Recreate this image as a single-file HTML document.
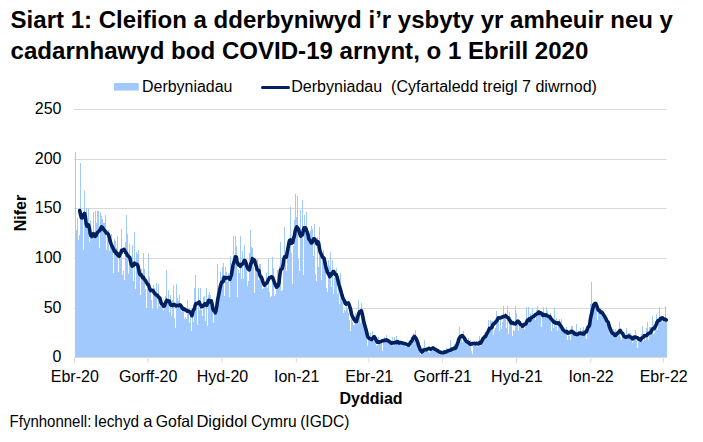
<!DOCTYPE html>
<html><head><meta charset="utf-8"><title>Siart 1</title><style>html,body{margin:0;padding:0;background:#fff}body{width:703px;height:442px;overflow:hidden;font-family:"Liberation Sans",sans-serif}</style></head><body>
<svg width="703" height="442" viewBox="0 0 703 442" style="display:block">
<rect width="703" height="442" fill="#fff"/>
<g font-family="Liberation Sans, sans-serif" font-weight="bold" font-size="23.3" fill="#000">
<text x="10.6" y="27.9" textLength="662.4" lengthAdjust="spacingAndGlyphs" style="white-space:pre">Siart 1: Cleifion a dderbyniwyd i’r ysbyty yr amheuir neu y</text>
<text x="10.6" y="58.75" textLength="577.8" lengthAdjust="spacingAndGlyphs" style="white-space:pre">cadarnhawyd bod COVID-19 arnynt, o 1 Ebrill 2020</text>
</g>
<rect x="114" y="83" width="24.7" height="7.6" fill="#A2C9FE"/>
<line x1="262.5" y1="87.5" x2="288.5" y2="87.5" stroke="#002060" stroke-width="3" stroke-linecap="round"/>
<g font-family="Liberation Sans, sans-serif" font-size="16" fill="#000">
<text x="142" y="92.1" textLength="90.4" lengthAdjust="spacingAndGlyphs">Derbyniadau</text>
<text x="291.3" y="92.1" style="white-space:pre" textLength="305.6" lengthAdjust="spacingAndGlyphs">Derbyniadau  (Cyfartaledd treigl 7 diwrnod)</text>
<text x="61.5" y="114.1" text-anchor="end">250</text>
<text x="61.5" y="164.1" text-anchor="end">200</text>
<text x="61.5" y="213.1" text-anchor="end">150</text>
<text x="61.5" y="263.1" text-anchor="end">100</text>
<text x="61.5" y="313.1" text-anchor="end">50</text>
<text x="61.5" y="362.1" text-anchor="end">0</text>
<text x="74.8" y="381.6" text-anchor="middle">Ebr-20</text>
<text x="148.21" y="381.6" text-anchor="middle">Gorff-20</text>
<text x="222.43" y="381.6" text-anchor="middle">Hyd-20</text>
<text x="296.64" y="381.6" text-anchor="middle">Ion-21</text>
<text x="369.25" y="381.6" text-anchor="middle">Ebr-21</text>
<text x="442.66" y="381.6" text-anchor="middle">Gorff-21</text>
<text x="516.87" y="381.6" text-anchor="middle">Hyd-21</text>
<text x="591.09" y="381.6" text-anchor="middle">Ion-22</text>
<text x="663.69" y="381.6" text-anchor="middle">Ebr-22</text>
<text x="371" y="404.3" text-anchor="middle" font-weight="bold">Dyddiad</text>
<text transform="translate(26,213) rotate(-90)" text-anchor="middle" font-weight="bold">Nifer</text>
<text x="9.6" y="427.4" font-size="16.5" textLength="81.7" lengthAdjust="spacingAndGlyphs">Ffynhonnell:</text>
<text x="93.9" y="427.4" font-size="16.5" textLength="45.2" lengthAdjust="spacingAndGlyphs">Iechyd</text>
<text x="143.2" y="427.4" font-size="16.5">a</text>
<text x="155.8" y="427.4" font-size="16.5" textLength="37.8" lengthAdjust="spacingAndGlyphs">Gofal</text>
<text x="196.4" y="427.4" font-size="16.5" textLength="50.7" lengthAdjust="spacingAndGlyphs">Digidol</text>
<text x="250.9" y="427.4" font-size="16.5" textLength="45.9" lengthAdjust="spacingAndGlyphs">Cymru</text>
<text x="300.2" y="427.4" font-size="16.5" textLength="49.2" lengthAdjust="spacingAndGlyphs">(IGDC)</text>
</g>
<rect x="74" y="109" width="592.5" height="1" fill="#D9D9D9"/>
<rect x="74" y="159" width="592.5" height="1" fill="#D9D9D9"/>
<rect x="74" y="208" width="592.5" height="1" fill="#D9D9D9"/>
<rect x="74" y="258" width="592.5" height="1" fill="#D9D9D9"/>
<rect x="74" y="308" width="592.5" height="1" fill="#D9D9D9"/>
<path d="M75,357V152H76V230H77V218H78V240H79V235H80V163H81V211H82V219H83V250H84V191H85V217H86V208H87V225H88V208H89V242H90V220H91V234H92V238H93V212H94V238H95V211H96V223H97V211H98V211H99V248H100V212H101V216H102V219H103V223H104V223H105V215H106V250H107V239H108V230H109V251H110V241H111V234H112V247H113V273H114V239H115V241H116V248H117V236H118V272H119V258H120V259H121V229H122V275H123V271H124V280H125V242H126V215H127V234H128V274H129V244H130V256H131V260H132V245H133V281H134V232H135V289H136V252H137V254H138V250H139V269H140V295H141V269H142V275H143V253H144V269H145V289H146V308H147V289H148V253H149V277H150V285H151V300H152V309H153V285H154V288H155V295H156V283H157V309H158V284H159V306H160V298H161V304H162V309H163V311H164V309H165V296H166V270H167V300H168V290H169V312H170V295H171V316H172V300H173V285H174V318H175V328H176V284H177V298H178V301H179V295H180V305H181V312H182V306H183V307H184V319H185V317H186V319H187V300H188V311H189V323H190V317H191V331H192V311H193V322H194V288H195V275H196V308H197V325H198V288H199V310H200V288H201V310H202V316H203V297H204V296H205V321H206V288H207V326H208V295H209V292H210V295H211V300H212V301H213V323H214V312H215V309H216V308H217V264H218V303H219V294H220V272H221V277H222V267H223V263H224V296H225V267H226V272H227V282H228V273H229V297H230V256H231V266H232V275H233V236H234V266H235V236H236V246H237V297H238V270H239V273H240V236H241V279H242V251H243V279H244V245H245V264H246V263H247V286H248V281H249V253H250V230H251V247H252V248H253V267H254V293H255V262H256V266H257V259H258V280H259V264H260V264H261V277H262V289H263V288H264V284H265V284H266V273H267V288H268V259H269V292H270V297H271V296H272V257H273V268H274V296H275V294H276V287H277V270H278V281H279V266H280V242H281V291H282V290H283V256H284V227H285V260H286V271H287V252H288V239H289V249H290V207H291V253H292V284H293V246H294V220H295V194H296V217H297V196H298V259H299V271H300V210H301V237H302V200H303V275H304V215H305V233H306V212H307V236H308V232H309V239H310V231H311V226H312V229H313V256H314V224H315V274H316V281H317V237H318V267H319V227H320V244H321V280H322V256H323V250H324V265H325V259H326V288H327V292H328V260H329V266H330V252H331V287H332V260H333V294H334V278H335V274H336V268H337V294H338V283H339V304H340V273H341V289H342V294H343V313H344V310H345V311H346V302H347V309H348V313H349V320H350V331H351V314H352V322H353V325H354V325H355V313H356V318H357V314H358V300H359V317H360V323H361V303H362V310H363V316H364V326H365V330H366V334H367V346H368V334H369V341H370V333H371V340H372V331H373V341H374V337H375V337H376V346H377V345H378V337H379V344H380V344H381V341H382V351H383V339H384V337H385V339H386V335H387V338H388V341H389V342H390V342H391V342H392V337H393V346H394V337H395V340H396V336H397V340H398V341H399V342H400V343H401V343H402V342H403V342H404V345H405V347H406V347H407V344H408V343H409V340H410V348H411V340H412V335H413V333H414V337H415V330H416V338H417V337H418V341H419V342H420V355H421V353H422V350H423V348H424V340H425V349H426V350H427V351H428V352H429V353H430V348H431V349H432V349H433V347H434V351H435V351H436V352H437V351H438V349H439V355H440V350H441V351H442V351H443V351H444V353H445V352H446V348H447V349H448V351H449V350H450V340H451V347H452V348H453V346H454V344H455V347H456V348H457V343H458V337H459V327H460V339H461V337H462V342H463V331H464V337H465V337H466V342H467V340H468V338H469V341H470V340H471V351H472V354H473V344H474V346H475V342H476V342H477V347H478V345H479V336H480V346H481V337H482V338H483V338H484V340H485V335H486V332H487V331H488V320H489V333H490V320H491V321H492V321H493V335H494V330H495V328H496V311H497V317H498V321H499V331H500V317H501V329H502V322H503V306H504V318H505V313H506V328H507V306H508V334H509V312H510V317H511V322H512V336H513V330H514V331H515V306H516V313H517V322H518V331H519V325H520V321H521V324H522V327H523V328H524V329H525V324H526V307H527V323H528V307H529V318H530V313H531V319H532V308H533V319H534V317H535V320H536V310H537V306H538V310H539V310H540V314H541V327H542V313H543V307H544V314H545V314H546V307H547V311H548V314H549V320H550V313H551V331H552V322H553V328H554V308H555V327H556V318H557V331H558V324H559V319H560V326H561V319H562V332H563V331H564V330H565V331H566V327H567V340H568V331H569V336H570V340H571V326H572V326H573V336H574V331H575V331H576V324H577V334H578V333H579V332H580V328H581V331H582V330H583V327H584V334H585V334H586V339H587V331H588V323H589V323H590V304H591V282H592V307H593V305H594V304H595V303H596V305H597V320H598V308H599V309H600V310H601V315H602V317H603V318H604V316H605V318H606V324H607V323H608V329H609V334H610V329H611V331H612V329H613V329H614V335H615V329H616V337H617V335H618V331H619V322H620V337H621V340H622V333H623V338H624V339H625V336H626V328H627V338H628V333H629V333H630V333H631V341H632V343H633V335H634V336H635V330H636V341H637V348H638V336H639V339H640V340H641V334H642V326H643V341H644V335H645V340H646V328H647V322H648V340H649V327H650V327H651V332H652V316H653V334H654V333H655V321H656V314H657V330H658V318H659V307H660V322H661V318H662V322H663V316H664V319H665V306H666V318H667V357Z" fill="#A2C9FE" shape-rendering="crispEdges"/>
<rect x="74" y="357" width="593" height="1" fill="#D9D9D9"/>
<rect x="74" y="357" width="1" height="5.5" fill="#D9D9D9"/>
<rect x="147.41" y="357" width="1" height="5.5" fill="#D9D9D9"/>
<rect x="221.63" y="357" width="1" height="5.5" fill="#D9D9D9"/>
<rect x="295.84" y="357" width="1" height="5.5" fill="#D9D9D9"/>
<rect x="368.45" y="357" width="1" height="5.5" fill="#D9D9D9"/>
<rect x="441.86" y="357" width="1" height="5.5" fill="#D9D9D9"/>
<rect x="516.07" y="357" width="1" height="5.5" fill="#D9D9D9"/>
<rect x="590.29" y="357" width="1" height="5.5" fill="#D9D9D9"/>
<rect x="662.89" y="357" width="1" height="5.5" fill="#D9D9D9"/>
<path d="M79.74,210.57 L80.55,214.85 L81.36,217.62 L82.16,217.97 L82.97,217.19 L83.78,214.16 L84.58,213.51 L85.39,216.87 L86.2,223.88 L87,226.2 L87.81,225.94 L88.62,224.96 L89.42,228.33 L90.23,233.43 L91.04,235.87 L91.84,236.27 L92.65,235 L93.46,233.72 L94.26,234.08 L95.07,236.34 L95.88,235.71 L96.68,233.95 L97.49,232.47 L98.3,231.63 L99.1,231.08 L99.91,230.2 L100.72,228.36 L101.52,226.77 L102.33,227.21 L103.14,228.49 L103.94,230 L104.75,230.51 L105.56,231.58 L106.36,233 L107.17,233 L107.98,233.82 L108.78,235.46 L109.59,238.76 L110.4,241.74 L111.2,244.18 L112.01,246.12 L112.82,247.74 L113.62,249.35 L114.43,251.47 L115.24,251.17 L116.05,253.35 L116.85,253.04 L117.66,254.97 L118.47,255.67 L119.27,256.29 L120.08,253.75 L120.89,252.9 L121.69,250.4 L122.5,250.39 L123.31,249.88 L124.11,249.3 L124.92,250.89 L125.73,252.78 L126.53,253.21 L127.34,255.3 L128.15,255.97 L128.95,256.83 L129.76,257.44 L130.57,261.3 L131.37,264.67 L132.18,266.23 L132.99,265.27 L133.79,265.19 L134.6,263.15 L135.41,263.94 L136.21,264.2 L137.02,264.24 L137.83,265.44 L138.63,269.22 L139.44,273.36 L140.25,274.77 L141.05,274.63 L141.86,276.23 L142.67,277.74 L143.47,277.46 L144.28,279.27 L145.09,279.99 L145.89,281.17 L146.7,282.91 L147.51,284.27 L148.31,284.64 L149.12,287.04 L149.93,289.24 L150.73,290.58 L151.54,290.19 L152.35,290.25 L153.15,290.78 L153.96,292.2 L154.77,293.46 L155.57,294.33 L156.38,294.93 L157.19,295.03 L157.99,296.23 L158.8,297.55 L159.61,297.69 L160.41,299.79 L161.22,303.39 L162.03,303.96 L162.83,304.83 L163.64,306.22 L164.45,305.89 L165.25,303.7 L166.06,301.84 L166.87,300.24 L167.67,301.08 L168.48,300.97 L169.29,300.94 L170.09,303.39 L170.9,305.13 L171.71,304.6 L172.51,305.47 L173.32,304.65 L174.13,304.32 L174.93,305.2 L175.74,305.89 L176.55,305.71 L177.35,305.3 L178.16,305.64 L178.97,305.42 L179.77,304.84 L180.58,305.21 L181.39,306.43 L182.19,308.1 L183,309.18 L183.81,308.62 L184.61,309.25 L185.42,310.06 L186.23,310.03 L187.03,311.04 L187.84,311.21 L188.65,310.97 L189.45,311.8 L190.26,312.16 L191.07,313.82 L191.87,315.72 L192.68,312.22 L193.49,309.93 L194.29,309.05 L195.1,305.68 L195.91,303.66 L196.72,303.75 L197.52,303.2 L198.33,302.78 L199.14,302 L199.94,304.09 L200.75,305.42 L201.56,306.72 L202.36,306.15 L203.17,305.91 L203.98,304.69 L204.78,303.79 L205.59,304.01 L206.4,305.39 L207.2,304.56 L208.01,302.04 L208.82,300.34 L209.62,300.81 L210.43,302.03 L211.24,300.79 L212.04,304 L212.85,308.68 L213.66,310.56 L214.46,310.32 L215.27,312.79 L216.08,310.45 L216.88,305.49 L217.69,299.85 L218.5,295.68 L219.3,291.8 L220.11,287.72 L220.92,284.49 L221.72,282.04 L222.53,282.09 L223.34,281.42 L224.14,277.23 L224.95,277.89 L225.76,278.2 L226.56,277.71 L227.37,277.6 L228.18,277.56 L228.98,278.38 L229.79,279.45 L230.6,277.07 L231.4,275.14 L232.21,269.99 L233.02,265 L233.82,262.66 L234.63,259.86 L235.44,256.76 L236.24,256.96 L237.05,261.2 L237.86,263.84 L238.66,264.99 L239.47,264.53 L240.28,266.26 L241.08,265 L241.89,264.01 L242.7,263.97 L243.5,262.34 L244.31,260.37 L245.12,260.63 L245.92,262.81 L246.73,265.97 L247.54,267.57 L248.34,269 L249.15,269.88 L249.96,267.36 L250.76,263.76 L251.57,262.49 L252.38,258.65 L253.18,259.23 L253.99,259.74 L254.8,260.85 L255.6,264.51 L256.41,266.46 L257.22,269.9 L258.02,270.17 L258.83,270.22 L259.64,274.51 L260.44,276.7 L261.25,276.95 L262.06,279.09 L262.86,281.86 L263.67,283.59 L264.48,285.2 L265.28,283.96 L266.09,283.39 L266.9,282.94 L267.7,281.18 L268.51,279.34 L269.32,277.84 L270.12,277.72 L270.93,277.01 L271.74,276.77 L272.54,277.23 L273.35,279.44 L274.16,281.76 L274.96,283.91 L275.77,285.46 L276.58,287.25 L277.39,286.42 L278.19,285.82 L279,282.81 L279.81,275.13 L280.61,269.72 L281.42,269.25 L282.23,268.34 L283.03,265.02 L283.84,259.23 L284.65,256.83 L285.45,257.39 L286.26,257.19 L287.07,253.09 L287.87,248.83 L288.68,244.38 L289.49,240.47 L290.29,240.01 L291.1,243.37 L291.91,243.02 L292.71,242.53 L293.52,238.25 L294.33,236.32 L295.13,231.22 L295.94,228.61 L296.75,226.98 L297.55,227.99 L298.36,229.03 L299.17,231.61 L299.97,234.49 L300.78,236.08 L301.59,234.36 L302.39,234.79 L303.2,230.8 L304.01,227.87 L304.81,229.92 L305.62,227.96 L306.43,230.21 L307.23,232.42 L308.04,234.89 L308.85,239.18 L309.65,239.85 L310.46,241.44 L311.27,242.88 L312.07,242.7 L312.88,240.85 L313.69,238.88 L314.49,238.84 L315.3,240.07 L316.11,240.89 L316.91,243.9 L317.72,241.69 L318.53,242.63 L319.33,247.47 L320.14,251.88 L320.95,253.57 L321.75,255.24 L322.56,257.29 L323.37,257.69 L324.17,258.72 L324.98,262.89 L325.79,266.63 L326.59,269.4 L327.4,272.12 L328.21,273.47 L329.01,275 L329.82,276.63 L330.63,273.94 L331.43,274.54 L332.24,273.83 L333.05,271.64 L333.85,271.66 L334.66,273.21 L335.47,274.8 L336.27,274.57 L337.08,276.97 L337.89,280.12 L338.69,284 L339.5,286.26 L340.31,289.11 L341.11,291.98 L341.92,294.91 L342.73,297.29 L343.53,299.44 L344.34,300.57 L345.15,303.21 L345.95,304.13 L346.76,303.11 L347.57,303.53 L348.37,302.95 L349.18,304.8 L349.99,307.44 L350.79,310.31 L351.6,314.33 L352.41,316.32 L353.21,317.66 L354.02,319.65 L354.83,320.35 L355.63,321.49 L356.44,321.53 L357.25,318.57 L358.06,315.8 L358.86,313.16 L359.67,311.75 L360.48,311.25 L361.28,310.7 L362.09,313.1 L362.9,316.86 L363.7,320.96 L364.51,324.56 L365.32,327.16 L366.12,329.97 L366.93,333.47 L367.74,336.72 L368.54,337.72 L369.35,338.61 L370.16,338.76 L370.96,339.36 L371.77,339.58 L372.58,338.32 L373.38,337.62 L374.19,336.67 L375,337.77 L375.8,339.39 L376.61,341.03 L377.42,342.22 L378.22,341.78 L379.03,342.21 L379.84,341.93 L380.64,341.64 L381.45,341.34 L382.26,340.81 L383.06,340.82 L383.87,340.53 L384.68,340.35 L385.48,340.45 L386.29,339.8 L387.1,340.43 L387.9,340.6 L388.71,341.13 L389.52,341.75 L390.32,342.19 L391.13,343.1 L391.94,343.14 L392.74,342.78 L393.55,342.98 L394.36,342.64 L395.16,342.54 L395.97,342.13 L396.78,342.56 L397.58,341.7 L398.39,342.04 L399.2,343.04 L400,342.43 L400.81,342.6 L401.62,342.94 L402.42,342.97 L403.23,343.34 L404.04,343.49 L404.84,343.62 L405.65,343.86 L406.46,344.2 L407.26,344.65 L408.07,345.01 L408.88,345.11 L409.68,343.86 L410.49,342.26 L411.3,341.55 L412.1,340.42 L412.91,338.34 L413.72,337.21 L414.52,336.46 L415.33,337.35 L416.14,338.79 L416.94,340.59 L417.75,342.64 L418.56,345.6 L419.36,347.36 L420.17,349.63 L420.98,350.56 L421.78,351.99 L422.59,351.33 L423.4,350.06 L424.2,349.94 L425.01,349.7 L425.82,349.45 L426.62,349.65 L427.43,348.93 L428.24,348.73 L429.04,348.25 L429.85,348.66 L430.66,349.17 L431.46,348.63 L432.27,348.39 L433.08,347.94 L433.88,348.53 L434.69,349.31 L435.5,349.5 L436.3,349.84 L437.11,350.47 L437.92,350.77 L438.73,351.65 L439.53,351.93 L440.34,352.43 L441.15,352.38 L441.95,352.66 L442.76,352.78 L443.57,352.52 L444.37,351.83 L445.18,352.15 L445.99,352.03 L446.79,351.37 L447.6,351.31 L448.41,350.54 L449.21,350.45 L450.02,350.33 L450.83,350.07 L451.63,349.26 L452.44,348.98 L453.25,348.7 L454.05,348.39 L454.86,348.5 L455.67,348.09 L456.47,346.14 L457.28,344.22 L458.09,341.83 L458.89,338.87 L459.7,337.6 L460.51,336.45 L461.31,336.18 L462.12,335.5 L462.93,336.1 L463.73,337.36 L464.54,338.36 L465.35,340.02 L466.15,341.09 L466.96,341.7 L467.77,342.4 L468.57,342.31 L469.38,343.45 L470.19,344.24 L470.99,343.99 L471.8,343.87 L472.61,343.44 L473.41,343.43 L474.22,343.33 L475.03,343.88 L475.83,343.49 L476.64,343.26 L477.45,343.75 L478.25,343.84 L479.06,343.18 L479.87,342.44 L480.67,343.14 L481.48,341.69 L482.29,340.09 L483.09,338.84 L483.9,337.69 L484.71,336.67 L485.51,336.43 L486.32,334.56 L487.13,333.08 L487.93,331.91 L488.74,330.34 L489.55,328.26 L490.35,328.2 L491.16,327.95 L491.97,327.39 L492.77,324.68 L493.58,324.14 L494.39,323.36 L495.19,322.62 L496,321.51 L496.81,320.91 L497.61,319.1 L498.42,317.77 L499.23,318.05 L500.03,318.03 L500.84,317.86 L501.65,317.32 L502.45,317.04 L503.26,316.58 L504.07,316.33 L504.87,316.41 L505.68,315.76 L506.49,316.76 L507.29,317.32 L508.1,317.71 L508.91,318.99 L509.71,320.06 L510.52,321.92 L511.33,323.11 L512.13,322.57 L512.94,322.8 L513.75,323.58 L514.55,323.45 L515.36,323.88 L516.17,322.75 L516.97,321.95 L517.78,321.16 L518.59,321.65 L519.4,322.46 L520.2,324.24 L521.01,324.55 L521.82,325 L522.62,326.21 L523.43,325.38 L524.24,324.67 L525.04,323.95 L525.85,323.94 L526.66,322.09 L527.46,320.12 L528.27,319.84 L529.08,318.86 L529.88,320.35 L530.69,318.4 L531.5,317.73 L532.3,317.11 L533.11,316.72 L533.92,316.4 L534.72,315.42 L535.53,314.67 L536.34,314.13 L537.14,313.75 L537.95,313.33 L538.76,312.1 L539.56,313.27 L540.37,312.72 L541.18,313.07 L541.98,313.98 L542.79,315.43 L543.6,314.49 L544.4,315.08 L545.21,315.35 L546.02,314.83 L546.82,315.64 L547.63,315.9 L548.44,316.42 L549.24,316.47 L550.05,316.89 L550.86,318.82 L551.66,319.29 L552.47,320.44 L553.28,321.27 L554.08,322.29 L554.89,322.11 L555.7,323.25 L556.5,323.15 L557.31,322.75 L558.12,323.51 L558.92,322.9 L559.73,324.68 L560.54,325.5 L561.34,326.8 L562.15,328.13 L562.96,329.59 L563.76,330.4 L564.57,330.91 L565.38,331.93 L566.18,331.72 L566.99,331.47 L567.8,333.07 L568.6,332.72 L569.41,332.62 L570.22,332.47 L571.02,331.23 L571.83,331.31 L572.64,331.87 L573.44,332.32 L574.25,333.81 L575.06,333.49 L575.86,334.24 L576.67,334.39 L577.48,334.4 L578.28,333.92 L579.09,333.14 L579.9,333.22 L580.7,333.12 L581.51,333.8 L582.32,333.84 L583.12,333.38 L583.93,333.91 L584.74,332.26 L585.54,332.1 L586.35,331.83 L587.16,329.73 L587.96,327.22 L588.77,326.62 L589.58,325.05 L590.38,319.12 L591.19,315.51 L592,311.9 L592.8,308.55 L593.61,305.08 L594.42,303.96 L595.22,303.29 L596.03,303.85 L596.84,306.05 L597.64,308.38 L598.45,310.21 L599.26,310.12 L600.07,311.59 L600.87,312.31 L601.68,312.01 L602.49,313.08 L603.29,314.42 L604.1,315.82 L604.91,317.02 L605.71,318.18 L606.52,320.45 L607.33,321.28 L608.13,322.34 L608.94,325.01 L609.75,327.75 L610.55,329.67 L611.36,331.99 L612.17,333.05 L612.97,332.98 L613.78,334.02 L614.59,335.17 L615.39,335.51 L616.2,334.54 L617.01,333.64 L617.81,332.91 L618.62,332.36 L619.43,330.97 L620.23,330.48 L621.04,331.93 L621.85,333.08 L622.65,333.43 L623.46,335.39 L624.27,336.51 L625.07,337.03 L625.88,337.26 L626.69,336.9 L627.49,336.81 L628.3,336.06 L629.11,336.31 L629.91,336.61 L630.72,337.33 L631.53,337.31 L632.33,338.9 L633.14,338.45 L633.95,337.66 L634.75,337.02 L635.56,336.98 L636.37,337.59 L637.17,337.81 L637.98,338.39 L638.79,339.29 L639.59,338.97 L640.4,339.99 L641.21,338.64 L642.01,337.88 L642.82,337.54 L643.63,336.7 L644.43,335.57 L645.24,335.87 L646.05,335.58 L646.85,335.26 L647.66,334.24 L648.47,333.42 L649.27,333 L650.08,332.97 L650.89,332.18 L651.69,330.39 L652.5,329 L653.31,328.48 L654.11,328.6 L654.92,327.11 L655.73,325.55 L656.53,324.05 L657.34,321.82 L658.15,320.64 L658.95,320.51 L659.76,320.27 L660.57,318.62 L661.37,318.16 L662.18,317.8 L662.99,318.37 L663.79,319.27 L664.6,319.52 L665.41,319.2 L666.21,319.96" fill="none" stroke="#002060" stroke-width="3.6" stroke-linejoin="round" stroke-linecap="round"/>
</svg>
</body></html>
